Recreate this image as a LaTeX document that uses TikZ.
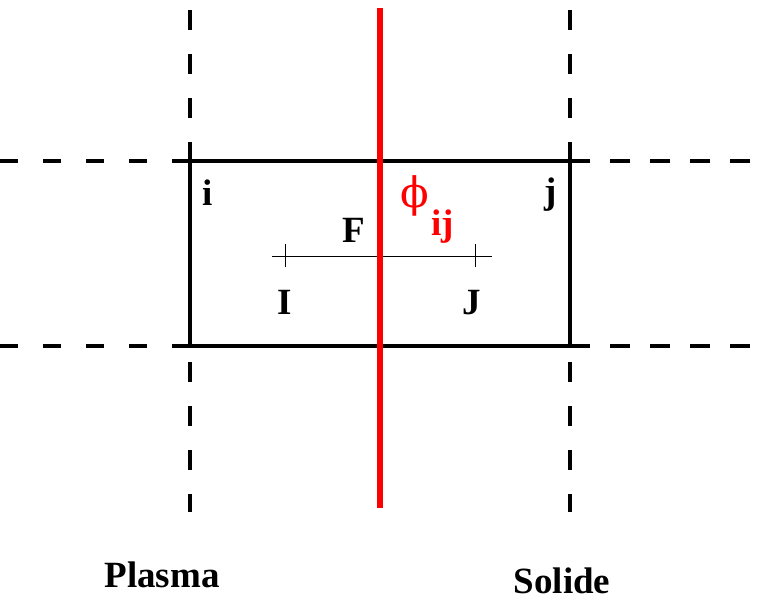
\documentclass[tikz,border=0pt]{standalone}
\usepackage{fontspec}
\setmainfont{Liberation Serif}
\newfontfamily\phifont{DejaVu Serif}
\begin{document}
\begin{tikzpicture}[x=1pt,y=-1pt,
  lbl/.style={anchor=base,inner sep=0pt,font=\fontsize{37}{40}\selectfont\bfseries},
  gridv/.style={line width=4.5pt,dash pattern=on 20pt off 24pt},
  gridhl/.style={line width=4.5pt,dash pattern=on 18pt off 25pt},
  gridhr/.style={line width=4.5pt,dash pattern=on 20pt off 20pt},
  cellbox/.style={line width=4pt},
  iface/.style={red,line width=6pt},
  thinseg/.style={line width=1pt}]
\useasboundingbox (0,0) rectangle (758,600);
% coordinates
\coordinate (vl0) at (190,10);  \coordinate (vl1) at (190,512);
\coordinate (vr0) at (570,10);  \coordinate (vr1) at (570,512);
\coordinate (ht) at (190,161);  \coordinate (htr) at (570,161);
\coordinate (hb) at (190,346);  \coordinate (hbr) at (570,346);
\coordinate (htl0) at (0,161);  \coordinate (hbl0) at (0,346);
\coordinate (htr1) at (758,161); \coordinate (hbr1) at (758,346);
\coordinate (r0) at (380,8); \coordinate (r1) at (380,508);
\coordinate (s0) at (272,256); \coordinate (s1) at (492,256);
\coordinate (tI0) at (285,244); \coordinate (tI1) at (285,267);
\coordinate (tJ0) at (475,244); \coordinate (tJ1) at (475,267);
% dashed grid
\draw[gridv] (vl0) -- (vl1);
\draw[gridv] (vr0) -- (vr1);
\draw[gridhl] (ht) -- (htl0);
\draw[gridhl] (hb) -- (hbl0);
\draw[gridhr] (htr) -- (htr1);
\draw[gridhr] (hbr) -- (hbr1);
% cell
\draw[cellbox] (ht) rectangle (hbr);
% segment I-J
\draw[thinseg] (s0) -- (s1);
\draw[thinseg] (tI0) -- (tI1);
\draw[thinseg] (tJ0) -- (tJ1);
% interface
\draw[iface] (r0) -- (r1);
% labels
\node[lbl] (li) at (208,205) {i};
\node[lbl] (lj) at (551,203) {j};
\node[lbl] (lF) at (354,242) {F};
\node[lbl] (lI) at (285,314) {I};
\node[lbl] (lJ) at (472,314) {J};
\node[inner sep=0pt,text=red,font=\phifont\fontsize{42}{46}\selectfont] (lphi) at (415,196) {ϕ};
\node[lbl,text=red,font=\fontsize{37}{40}\selectfont\bfseries] (lij) at (443,235) {ij};
\node[lbl] (plasma) at (162,587) {Plasma};
\node[lbl] (solide) at (562,593) {Solide};
\end{tikzpicture}
\end{document}
